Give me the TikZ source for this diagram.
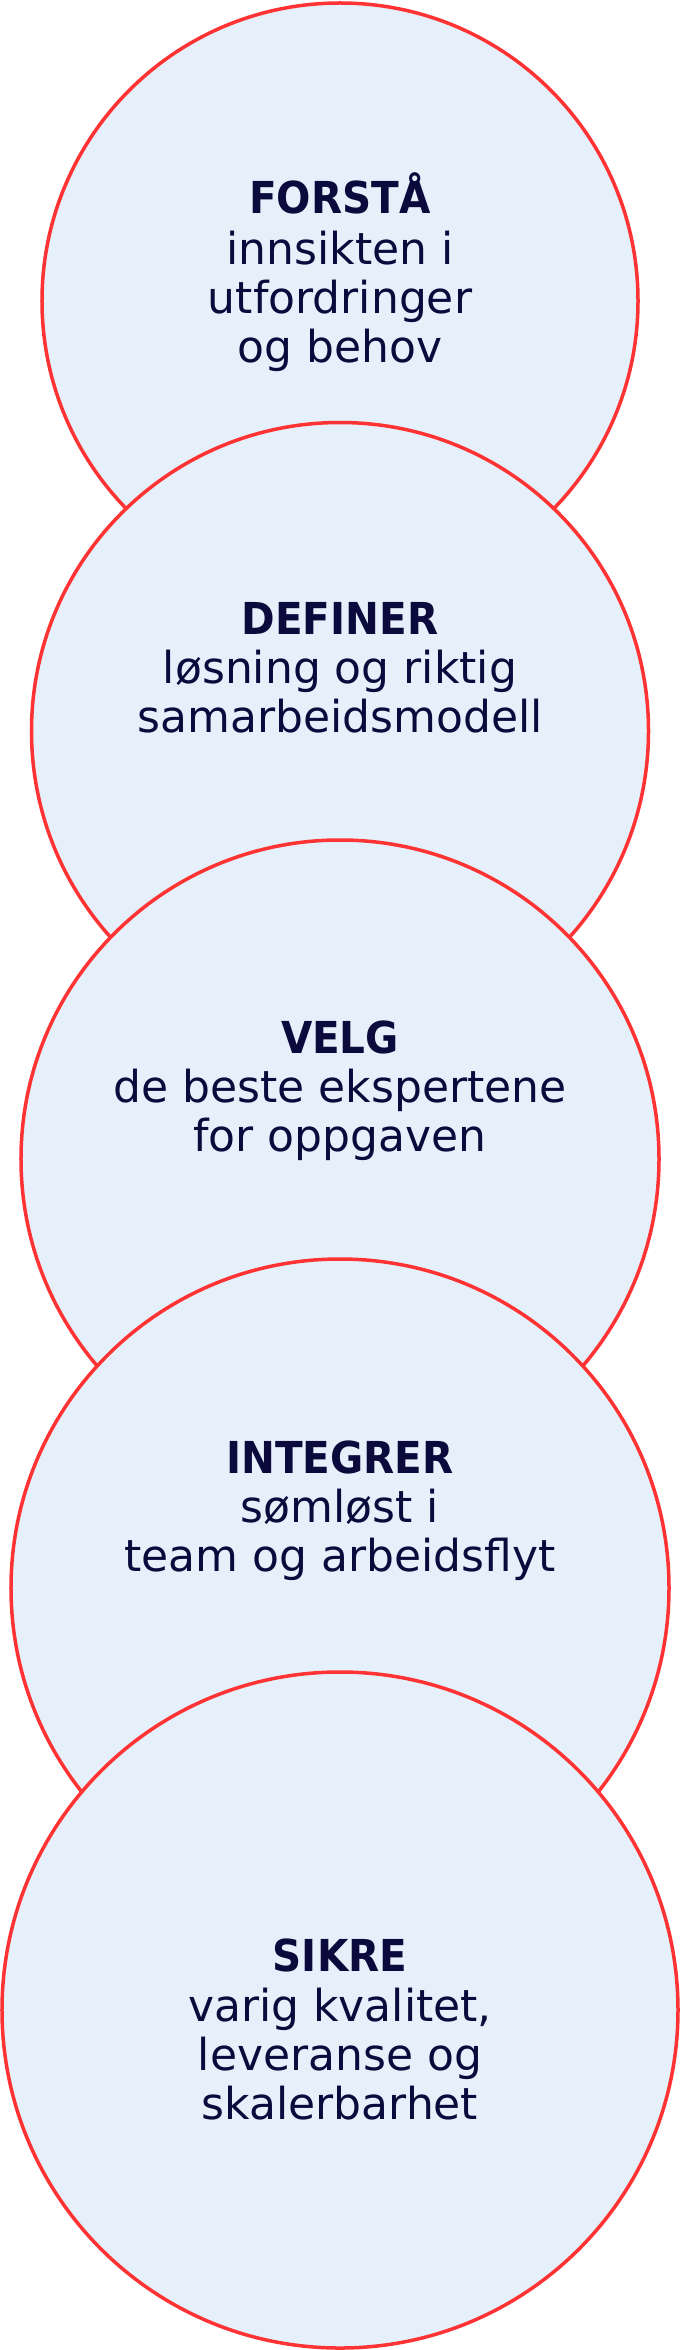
\documentclass[tikz,border=0pt]{standalone}
\usepackage{fontspec}
\setmainfont{DejaVu Sans}
\newfontfamily\titlefont{DejaVu Sans}[FakeStretch=0.92]
\definecolor{ringred}{HTML}{FF3333}
\definecolor{discfill}{HTML}{E6F0FA}
\definecolor{inkblue}{HTML}{0A0A3C}
\tikzset{
  disc/.style={circle, draw=ringred, fill=discfill, line width=3.5bp, inner sep=0pt, outer sep=0pt},
  ttl/.style={anchor=base, text=inkblue, inner sep=0pt, font=\fontsize{44bp}{49bp}\titlefont\bfseries},
  txt/.style={anchor=base, text=inkblue, inner sep=0pt, font=\fontsize{44bp}{49bp}\selectfont}
}
\begin{document}
\begin{tikzpicture}[x=1bp,y=-1bp]
\useasboundingbox (0,0) rectangle (680,2350);
% circle 1
\node[disc, minimum size=596bp] (c1) at (340,301) {};
\node[ttl] (t1a) at (340,214) {FORSTÅ};
\node[txt] (t1b) at (340,264) {innsikten i};
\node[txt] (t1c) at (340,313) {utfordringer};
\node[txt] (t1d) at (340,362) {og behov};
% circle 2
\node[disc, minimum size=617bp] (c2) at (340,731) {};
\node[ttl] (t2a) at (340,634) {DEFINER};
\node[txt] (t2b) at (340,683) {løsning og riktig};
\node[txt] (t2c) at (340,732) {samarbeidsmodell};
% circle 3
\node[disc, minimum size=638bp] (c3) at (340,1159) {};
\node[ttl] (t3a) at (340,1053) {VELG};
\node[txt] (t3b) at (340,1102) {de beste ekspertene};
\node[txt] (t3c) at (340,1151) {for oppgaven};
% circle 4
\node[disc, minimum size=658bp] (c4) at (340,1588) {};
\node[ttl] (t4a) at (340,1473) {INTEGRER};
\node[txt] (t4b) at (340,1522) {sømløst i};
\node[txt] (t4c) at (340,1571) {team og arbeidsflyt};
% circle 5
\node[disc, minimum size=676bp] (c5) at (340,2010) {};
\node[ttl] (t5a) at (340,1971) {SIKRE};
\node[txt] (t5b) at (340,2021) {varig kvalitet,};
\node[txt] (t5c) at (340,2070) {leveranse og};
\node[txt] (t5d) at (340,2119) {skalerbarhet};
\end{tikzpicture}
\end{document}
